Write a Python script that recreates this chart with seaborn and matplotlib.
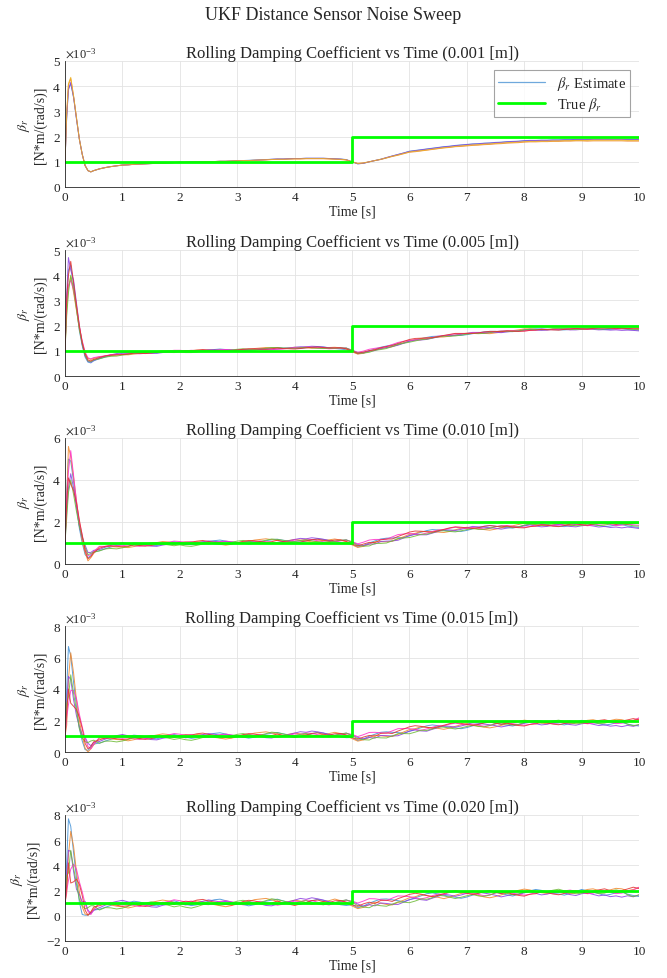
import numpy as np
import pandas as pd
import matplotlib
matplotlib.use("Agg")
import matplotlib.pyplot as plt
from matplotlib.lines import Line2D
from matplotlib.ticker import ScalarFormatter, MultipleLocator
import seaborn as sns

# sample times [s]
time_s = [0, 0.03, 0.06, 0.1, 0.15, 0.2, 0.25, 0.3, 0.35, 0.4, 0.45, 0.5,
          0.6, 0.7, 0.8, 0.9, 1.0, 1.1, 1.2, 1.3, 1.4, 1.5,
          1.6, 1.7, 1.8, 1.9, 2.0, 2.1, 2.2, 2.3, 2.4, 2.5,
          2.6, 2.7, 2.8, 2.9, 3.0, 3.1, 3.2, 3.3, 3.4, 3.5,
          3.6, 3.7, 3.8, 3.9, 4.0, 4.1, 4.2, 4.3, 4.4, 4.5,
          4.6, 4.7, 4.8, 4.9, 5.0, 5.1, 5.2, 5.3, 5.4, 5.5,
          5.6, 5.7, 5.8, 5.9, 6.0, 6.1, 6.2, 6.3, 6.4, 6.5,
          6.6, 6.7, 6.8, 6.9, 7.0, 7.1, 7.2, 7.3, 7.4, 7.5,
          7.6, 7.7, 7.8, 7.9, 8.0, 8.1, 8.2, 8.3, 8.4, 8.5,
          8.6, 8.7, 8.8, 8.9, 9.0, 9.1, 9.2, 9.3, 9.4, 9.5,
          9.6, 9.7, 9.8, 9.9, 10.0]

# common estimate trend, units of 1e-5 N*m/(rad/s)
beta_trend = [100, 280, 380, 410, 350, 270, 190, 130, 85, 65, 60, 65,
              72, 77, 81, 84, 87, 88, 90, 91, 92, 93,
              94, 95, 96, 97, 98, 98, 99, 99, 100, 100,
              101, 102, 102, 103, 104, 105, 105, 106, 107, 108,
              109, 110, 110, 111, 112, 112, 113, 113, 113, 113,
              112, 111, 110, 108, 100, 93, 95, 100, 105, 110,
              116, 122, 128, 134, 140, 143, 146, 149, 152, 155,
              158, 160, 163, 165, 167, 169, 170, 172, 173, 175,
              176, 178, 179, 180, 182, 183, 183, 184, 184, 185,
              185, 186, 186, 187, 187, 187, 188, 188, 188, 188,
              188, 188, 187, 187, 187]

# per-run deviation from the trend, units of 1e-5
dev_0001 = [
    [0, 0, 10, 0, 5, 0, 0, 0, 0, 0, 0, 0,
     0, 0, 0, 0, 0, 0, 0, 0, 0, 0,
     0, 0, 0, 0, 0, 0, 0, 0, 0, 0,
     0, 0, 0, 0, 0, 0, 1, 1, 1, 1,
     1, 1, 1, 1, 1, 1, 1, 1, 1, 1,
     1, 1, 1, 1, 0, -1, -1, 0, 0, 0,
     0, 1, 1, 1, 2, 2, 2, 2, 2, 2,
     2, 2, 2, 2, 2, 2, 2, 2, 2, 2,
     2, 2, 2, 2, 2, 2, 2, 2, 2, 2,
     2, 2, 2, 2, 2, 2, 2, 2, 2, 2,
     2, 2, 2, 2, 2],
    [0, 10, 25, 20, 10, 5, 0, 0, 0, 0, 0, 0,
     0, 0, 0, 0, 0, 0, 0, 0, 0, 0,
     0, 0, 0, 0, 0, 0, 0, 0, 0, 0,
     0, 0, 0, 0, 0, 0, 0, 0, 0, 0,
     0, 0, 0, 0, -1, -1, -1, -1, -1, -1,
     -1, -1, -1, -1, 0, 1, 1, 0, 0, -1,
     -1, -1, -2, -2, -2, -3, -3, -3, -3, -3,
     -3, -3, -3, -4, -4, -4, -4, -4, -4, -4,
     -4, -4, -4, -4, -4, -4, -4, -4, -4, -4,
     -4, -4, -4, -4, -4, -5, -5, -5, -5, -5,
     -5, -5, -5, -5, -5],
    [0, 0, 5, 5, 5, 0, 0, 0, 0, 0, 0, 0,
     0, 0, 0, 0, 0, 0, 0, 0, 0, 0,
     0, 0, 0, 0, 0, 0, 0, 0, 0, 0,
     0, 0, 0, 0, 0, 0, 0, 0, 0, 0,
     1, 1, 1, 1, 1, 1, 1, 1, 1, 1,
     1, 1, 1, 0, 0, -1, -1, 0, 0, 0,
     1, 1, 1, 1, 1, 1, 1, 1, 1, 1,
     1, 1, 1, 1, 1, 1, 1, 1, 1, 1,
     1, 1, 1, 1, 1, 1, 1, 1, 1, 1,
     1, 1, 1, 1, 1, 1, 1, 1, 1, 1,
     1, 1, 1, 1, 1],
    [0, 15, 30, 25, 10, 5, 0, 0, 0, 0, 0, 0,
     0, 0, 0, 0, 0, 0, 0, 0, 0, 0,
     0, 0, 0, 0, 0, 0, 0, 0, 0, 0,
     0, 0, 0, 0, 0, 0, 0, 0, 0, 0,
     0, 0, 0, 0, 0, 0, 0, 0, 0, 0,
     0, 0, 0, 0, 0, 0, 0, 0, 0, 0,
     0, 0, -1, -1, -1, -1, -2, -2, -2, -2,
     -2, -2, -2, -2, -2, -2, -2, -2, -2, -2,
     -2, -2, -2, -2, -2, -2, -2, -2, -2, -2,
     -2, -2, -2, -2, -2, -2, -2, -2, -2, -2,
     -2, -2, -2, -2, -2],
]

dev_0005 = [
    [0, 20, 40, 30, 10, 0, -10, -10, -10, -10, -8, -5,
     -3, -2, 0, 1, 3, 2, 4, 3, 1, -1,
     -2, 0, 2, 3, 1, -1, -3, -2, 0, 2,
     4, 5, 3, 1, 0, -2, -4, -3, -1, 1,
     2, 3, 1, 0, -2, -3, -1, 1, 3, 2,
     0, -2, -3, -4, -2, -5, -3, 0, 2, 4,
     3, 1, -1, -3, -2, 0, 2, 4, 5, 3,
     1, -1, -2, -4, -3, -1, 1, 3, 4, 2,
     0, -2, -3, -1, 1, 2, 4, 3, 1, -1,
     -2, -3, -1, 1, 3, 2, 0, -2, -4, -3,
     -1, 0, -2, -4, -5],
    [0, -20, -30, -15, -20, -10, 0, 5, 5, 5, 6, 5,
     4, 2, 1, -1, -2, -4, -3, -1, 0, 2,
     3, 5, 4, 2, 0, -1, 1, 3, 2, 0,
     -2, -3, -5, -4, -2, 0, 1, 3, 4, 5,
     3, 1, -1, 0, 2, 1, -1, -3, -2, 0,
     1, 3, 2, -1, -4, -6, -5, -2, 0, -2,
     -4, -6, -4, -2, 0, 1, 3, 2, 0, -1,
     -3, -2, 0, 2, 3, 1, -1, -3, -5, -4,
     -2, 0, 1, 3, 5, 4, 2, 0, -1, 1,
     2, 0, -2, -1, 1, 3, 4, 2, 1, 3,
     5, 4, 2, 3, 4],
    [0, 40, 90, 10, 30, 20, 10, -5, -5, -7, -5, -3,
     -1, 1, 3, 5, 6, 4, 2, 1, -1, -3,
     -4, -2, -1, 1, 0, -2, -1, 1, 2, 4,
     3, 1, 2, 0, -2, -1, 1, 0, -2, -4,
     -5, -3, -1, 0, 2, 4, 3, 5, 4, 2,
     0, -1, 1, 3, 2, 0, -3, -2, -4, -1,
     -3, -5, -6, -4, -2, -1, -3, -4, -2, 0,
     2, 1, -1, 0, 2, 4, 3, 1, 0, -2,
     -4, -3, -1, -2, 0, 1, -1, -3, -2, 0,
     1, -1, -3, -4, -2, -1, -3, -5, -4, -6,
     -5, -7, -5, -6, -8],
    [0, 10, -20, -30, -10, 5, 5, 10, 10, 7, 8, 8,
     5, 3, 4, 2, 0, 1, -1, -3, -2, 0,
     2, 1, 3, 5, 4, 2, 3, 1, -1, -2,
     0, 2, 3, 1, -1, -3, -2, 0, 1, -1,
     -2, -4, -3, -1, 1, 0, 2, 1, -1, -3,
     -4, -2, 0, 2, 3, 1, 4, 6, 5, 3,
     1, 3, 5, 4, 2, 0, -2, -1, 1, 3,
     2, 4, 5, 3, 1, 2, 0, -2, -1, 1,
     3, 2, 0, -1, -3, -2, 0, 2, 1, -1,
     0, 2, 3, 1, 0, -2, -1, 1, 2, 0,
     -2, -1, 1, 0, -1],
    [0, -40, -50, -10, -5, -5, -5, -2, -3, -5, -3, -1,
     -4, -2, -3, -5, -4, -2, 0, -1, 1, 3,
     2, 0, -2, -4, -3, -5, -6, -4, -2, 0,
     -1, -3, -2, 0, 2, 3, 1, -1, 0, 2,
     4, 3, 1, -1, -2, 0, 1, -1, -3, -4,
     -2, -1, 1, 3, 1, -2, -4, -6, -3, -5,
     -7, -5, -3, -4, -6, -4, -2, -3, -1, 1,
     0, -2, -4, -3, -1, 0, -2, -3, -1, 1,
     2, 0, -2, -1, 1, 3, 2, 0, 1, 3,
     4, 2, 0, -2, -1, 1, 0, -2, -1, 1,
     3, 1, 0, -2, -3],
    [0, 30, 20, 45, 20, 10, 10, 2, 3, -1, 0, 1,
     1, 3, 2, 0, -2, -1, 1, -1, -3, -2,
     0, 2, 1, -1, 1, 3, 2, 4, 5, 3,
     1, 0, -2, -3, -1, 1, 3, 2, 0, -2,
     -1, 1, -1, -3, -5, -3, -1, 1, 2, 0,
     -1, 1, 2, 0, -2, -3, 0, 1, -1, 2,
     1, -1, 1, 3, 5, 6, 4, 2, 0, 1,
     3, 5, 6, 4, 2, 0, 1, 3, 4, 2,
     0, 1, -1, -3, -4, -2, -1, 1, 0, -2,
     -3, -1, 1, 2, 0, -1, 1, 3, 4, 2,
     0, 2, 1, 3, 2],
]

dev_0010 = [
    [0, 60, 120, 80, 40, 10, -20, -30, -40, -35, -20, -10,
     -8, -5, 0, 4, 8, 6, 10, 7, 2, -3,
     -6, -1, 5, 8, 3, -2, -7, -5, 1, 6,
     10, 12, 7, 2, -1, -6, -10, -7, -2, 3,
     6, 8, 3, -1, -5, -8, -3, 2, 7, 4,
     -1, -5, -8, -10, -5, -12, -7, 0, 5, 9,
     7, 2, -3, -8, -5, 0, 5, 10, 12, 7,
     2, -2, -6, -10, -7, -2, 3, 8, 10, 5,
     0, -5, -8, -3, 2, 6, 10, 7, 2, -3,
     -5, -8, -3, 2, 8, 5, 0, -5, -10, -7,
     -2, 0, -6, -10, -13],
    [0, 20, 180, 100, 60, 30, 0, -20, -30, -50, -30, -15,
     10, 5, 2, -3, -6, -10, -7, -2, 1, 5,
     8, 12, 9, 4, 0, -3, 2, 7, 5, 0,
     -5, -8, -12, -9, -4, 1, 3, 8, 10, 12,
     7, 2, -3, 1, 5, 2, -3, -8, -5, 0,
     3, 8, 4, -2, -9, -14, -11, -5, 1, -4,
     -10, -14, -9, -4, 1, 3, 8, 5, 0, -3,
     -8, -5, 0, 5, 8, 3, -3, -8, -12, -9,
     -4, 1, 3, 8, 12, 9, 4, 0, -3, 2,
     5, 0, -5, -2, 3, 8, 10, 5, 2, 7,
     12, 10, 5, 8, 10],
    [0, -30, -20, 20, 10, 0, -10, -5, 5, -10, -5, 0,
     -3, 3, 8, 12, 14, 9, 5, 2, -3, -8,
     -10, -5, -2, 3, 0, -5, -3, 2, 6, 10,
     7, 3, 5, 0, -5, -3, 2, 0, -5, -10,
     -12, -7, -3, 0, 5, 10, 7, 12, 9, 5,
     0, -3, 2, 7, 5, 0, -7, -5, -10, -3,
     -7, -12, -15, -10, -5, -2, -7, -10, -5, 0,
     5, 2, -3, 0, 5, 10, 7, 3, 0, -5,
     -10, -7, -3, -5, 0, 3, -2, -7, -5, 0,
     3, -2, -7, -10, -5, -2, -7, -12, -9, -14,
     -12, -16, -11, -14, -18],
    [0, 40, 60, 130, 70, 30, 10, 10, -15, -25, -15, -5,
     12, 7, 10, 5, 0, 3, -3, -7, -5, 0,
     5, 3, 7, 12, 9, 5, 7, 2, -3, -5,
     0, 5, 7, 3, -2, -7, -5, 0, 3, -2,
     -5, -10, -7, -3, 2, 0, 5, 3, -2, -7,
     -10, -5, 0, 5, 7, 3, 9, 14, 12, 7,
     2, 7, 12, 9, 5, 0, -5, -2, 3, 7,
     5, 10, 12, 7, 3, 5, 0, -5, -3, 2,
     7, 5, 0, -3, -7, -5, 0, 5, 3, -2,
     0, 5, 7, 3, 0, -5, -3, 2, 5, 0,
     -5, -3, 3, 0, -3],
    [0, -60, -40, -10, -20, -20, -10, 0, -5, -20, -10, -8,
     -10, -5, -7, -12, -10, -5, 0, -3, 3, 7,
     5, 0, -5, -10, -7, -12, -15, -10, -5, 0,
     -3, -7, -5, 0, 5, 7, 3, -3, 0, 5,
     10, 7, 3, -3, -5, 0, 3, -3, -7, -10,
     -5, -3, 3, 7, 3, -5, -10, -14, -7, -12,
     -16, -12, -7, -10, -14, -10, -5, -7, -3, 3,
     0, -5, -10, -7, -3, 0, -5, -7, -3, 3,
     5, 0, -5, -3, 3, 7, 5, 0, 3, 7,
     10, 5, 0, -5, -3, 3, 0, -5, -3, 3,
     7, 3, 0, -5, -7],
    [0, 10, 30, -30, 0, 20, 20, 5, -20, -40, -25, -10,
     3, 7, 5, 0, -5, -3, 3, -3, -7, -5,
     0, 5, 3, -3, 3, 7, 5, 10, 12, 7,
     3, 0, -5, -7, -3, 3, 7, 5, 0, -5,
     -3, 3, -3, -7, -12, -7, -3, 3, 5, 0,
     -3, 3, 5, 0, -5, -7, 0, 3, -3, 5,
     3, -3, 3, 7, 12, 14, 10, 5, 0, 3,
     7, 12, 14, 10, 5, 0, 3, 7, 10, 5,
     0, 3, -3, -7, -10, -5, -3, 3, 0, -5,
     -7, -3, 3, 5, 0, -3, 3, 7, 10, 5,
     0, 5, 3, 7, 5],
]

dev_0015 = [
    [0, 120, 290, 200, 90, 20, -40, -60, -70, -55, -30, -15,
     -15, -8, 0, 7, 14, 10, 17, 12, 4, -5,
     -10, -2, 8, 14, 5, -3, -12, -8, 2, 10,
     17, 20, 12, 4, -2, -10, -17, -12, -3, 5,
     10, 14, 5, -2, -8, -14, -5, 3, 12, 7,
     -2, -8, -14, -17, -8, -20, -12, 0, 8, 15,
     12, 3, -5, -14, -8, 0, 8, 17, 20, 12,
     3, -3, -10, -17, -12, -3, 5, 14, 17, 8,
     0, -8, -14, -5, 3, 10, 17, 12, 3, -5,
     -8, -14, -5, 3, 14, 8, 0, -8, -17, -12,
     -3, 0, -10, -17, -22],
    [0, -110, 80, 220, 150, 60, 10, -30, -60, -65, -40, -20,
     17, 8, 3, -5, -10, -17, -12, -3, 2, 8,
     14, 20, 15, 7, 0, -5, 3, 12, 8, 0,
     -8, -14, -20, -15, -7, 2, 5, 14, 17, 20,
     12, 3, -5, 2, 8, 3, -5, -14, -8, 0,
     5, 14, 7, -3, -15, -24, -18, -8, 2, -7,
     -17, -24, -15, -7, 2, 5, 14, 8, 0, -5,
     -14, -8, 0, 8, 14, 5, -5, -14, -20, -15,
     -7, 2, 5, 14, 20, 15, 7, 0, -5, 3,
     8, 0, -8, -3, 5, 14, 17, 8, 3, 12,
     20, 17, 8, 14, 24],
    [0, 40, 100, 50, -20, -40, -30, -20, 10, -10, -20, -5,
     -5, 5, 14, 20, 24, 15, 8, 3, -5, -14,
     -17, -8, -3, 5, 0, -8, -5, 3, 10, 17,
     12, 5, 8, 0, -8, -5, 3, 0, -8, -17,
     -20, -12, -5, 0, 8, 17, 12, 20, 15, 8,
     0, -5, 3, 12, 8, 0, -12, -8, -17, -5,
     -12, -20, -25, -17, -8, -3, -12, -17, -8, 0,
     8, 3, -5, 0, 8, 17, 12, 5, 0, -8,
     -17, -12, -5, -8, 0, 5, -3, -12, -8, 0,
     5, -3, -12, -17, -8, -3, -12, -20, -15, -24,
     -20, -27, -18, -24, -15],
    [0, -60, -80, -20, 40, 70, 50, 30, 0, -30, -40, -15,
     20, 12, 17, 8, 0, 5, -5, -12, -8, 0,
     8, 5, 12, 20, 15, 8, 12, 3, -5, -8,
     0, 8, 12, 5, -3, -12, -8, 0, 5, -3,
     -8, -17, -12, -5, 3, 0, 8, 5, -3, -12,
     -17, -8, 0, 8, 12, 5, 15, 24, 20, 12,
     3, 12, 20, 15, 8, 0, -8, -3, 5, 12,
     8, 17, 20, 12, 5, 8, 0, -8, -5, 3,
     12, 8, 0, -5, -12, -8, 0, 8, 5, -3,
     0, 8, 12, 5, 0, -8, -5, 3, 8, 0,
     -8, -5, 5, 12, 30],
    [0, 30, -30, 80, 20, -10, -40, -40, -20, -5, 10, 10,
     -17, -8, -12, -20, -17, -8, 0, -5, 5, 12,
     8, 0, -8, -17, -12, -20, -25, -17, -8, 0,
     -5, -12, -8, 0, 8, 12, 5, -5, 0, 8,
     17, 12, 5, -5, -8, 0, 5, -5, -12, -17,
     -8, -5, 5, 12, 5, -8, -17, -24, -12, -20,
     -27, -20, -12, -17, -24, -17, -8, -12, -5, 5,
     0, -8, -17, -12, -5, 0, -8, -12, -5, 5,
     8, 0, -8, -5, 5, 12, 8, 0, 5, 12,
     17, 8, 0, -8, -5, 5, 0, -8, -5, 5,
     12, 5, -10, -20, -12],
    [0, -20, 20, -100, -60, 0, 30, 20, -30, -45, -25, 0,
     5, 12, 8, 0, -8, -5, 5, -5, -12, -8,
     0, 8, 5, -5, 5, 12, 8, 17, 20, 12,
     5, 0, -8, -12, -5, 5, 12, 8, 0, -8,
     -5, 5, -5, -12, -20, -12, -5, 5, 8, 0,
     -5, 5, 8, 0, -8, -12, 0, 5, -5, 8,
     5, -5, 5, 12, 20, 24, 17, 8, 0, 5,
     12, 20, 24, 17, 8, 0, 5, 12, 17, 8,
     0, 5, -5, -12, -17, -8, -5, 5, 0, -8,
     -12, -5, 5, 8, 0, -5, 5, 12, 17, 8,
     0, 8, 17, 25, 18],
]

dev_0020 = [
    [0, 150, 390, 300, 150, 30, -80, -120, -80, -60, -40, -20,
     -20, -10, 2, 12, 22, 15, 26, 18, 6, -8,
     -15, -3, 12, 22, 8, -5, -18, -12, 3, 15,
     26, 30, 18, 6, -3, -15, -26, -18, -5, 8,
     15, 22, 8, -3, -12, -22, -8, 5, 18, 10,
     -3, -12, -22, -26, -12, -30, -18, 0, 12, 22,
     18, 5, -8, -22, -12, 0, 12, 26, 30, 18,
     5, -5, -15, -26, -18, -5, 8, 22, 26, 12,
     0, -12, -22, -8, 5, 15, 26, 18, 5, -8,
     -12, -22, -8, 5, 22, 12, 0, -12, -26, -18,
     -5, 0, -15, -26, -34],
    [0, -100, 100, 260, 200, 80, 0, -60, -70, -60, -30, -10,
     26, 12, 5, -8, -15, -26, -18, -5, 3, 12,
     22, 30, 22, 10, 0, -8, 5, 18, 12, 0,
     -12, -22, -30, -22, -10, 3, 8, 22, 26, 30,
     18, 5, -8, 3, 12, 5, -8, -22, -12, 0,
     8, 22, 10, -5, -22, -36, -28, -12, 3, -10,
     -26, -36, -22, -10, 3, 8, 22, 12, 0, -8,
     -22, -12, 0, 12, 22, 8, -8, -22, -30, -22,
     -10, 3, 8, 22, 30, 22, 10, 0, -8, 5,
     12, 0, -12, -5, 8, 22, 26, 12, 5, 18,
     30, 26, 12, 22, 36],
    [0, 60, 140, 100, 0, -60, -20, -20, 30, -20, -40, -20,
     -8, 8, 22, 30, 36, 22, 12, 5, -8, -22,
     -26, -12, -5, 8, 0, -12, -8, 5, 15, 26,
     18, 8, 12, 0, -12, -8, 5, 0, -12, -26,
     -30, -18, -8, 0, 12, 26, 18, 30, 22, 12,
     0, -8, 5, 18, 12, 0, -18, -12, -26, -8,
     -18, -30, -38, -26, -12, -5, -18, -26, -12, 0,
     12, 5, -8, 0, 12, 26, 18, 8, 0, -12,
     -26, -18, -8, -12, 0, 8, -5, -18, -12, 0,
     8, -5, -18, -26, -12, -5, -18, -30, -22, -36,
     -30, -40, -28, -36, -22],
    [0, -80, -100, -40, 60, 100, 80, 60, 10, -30, -50, -20,
     30, 18, 26, 12, 0, 8, -8, -18, -12, 0,
     12, 8, 18, 30, 22, 12, 18, 5, -8, -12,
     0, 12, 18, 8, -5, -18, -12, 0, 8, -5,
     -12, -26, -18, -8, 5, 0, 12, 8, -5, -18,
     -26, -12, 0, 12, 18, 8, 22, 36, 30, 18,
     5, 18, 30, 22, 12, 0, -12, -5, 8, 18,
     12, 26, 30, 18, 8, 12, 0, -12, -8, 5,
     18, 12, 0, -8, -18, -12, 0, 12, 8, -5,
     0, 12, 18, 8, 0, -12, -8, 5, 12, 0,
     -12, -8, 8, 18, 40],
    [0, 40, -40, 110, 30, -20, -60, -50, -30, 0, 20, 15,
     -26, -12, -18, -30, -26, -12, 0, -8, 8, 18,
     12, 0, -12, -26, -18, -30, -38, -26, -12, 0,
     -8, -18, -12, 0, 12, 18, 8, -8, 0, 12,
     26, 18, 8, -8, -12, 0, 8, -8, -18, -26,
     -12, -8, 8, 18, 8, -12, -26, -36, -18, -30,
     -40, -30, -18, -26, -36, -26, -12, -18, -8, 8,
     0, -12, -26, -18, -8, 0, -12, -18, -8, 8,
     12, 0, -12, -8, 8, 18, 12, 0, 8, 18,
     26, 12, 0, -12, -8, 8, 0, -12, -8, 8,
     18, 8, -20, -35, -20],
    [0, -40, 40, -150, -80, 20, 60, 30, -40, -60, -30, 5,
     8, 18, 12, 0, -12, -8, 8, -8, -18, -12,
     0, 12, 8, -8, 8, 18, 12, 26, 30, 18,
     8, 0, -12, -18, -8, 8, 18, 12, 0, -12,
     -8, 8, -8, -18, -30, -18, -8, 8, 12, 0,
     -8, 8, 12, 0, -12, -18, 0, 8, -8, 12,
     8, -8, 8, 18, 30, 36, 26, 12, 0, 8,
     18, 30, 36, 26, 12, 0, 8, 18, 26, 12,
     0, 8, -8, -18, -26, -12, -8, 8, 0, -12,
     -18, -8, 8, 12, 0, -8, 8, 18, 26, 12,
     0, 12, 26, 40, 30],
]

# true (reference) coefficient, step at t = 5 s
true_time = [0, 5, 5, 10]
true_beta = [1e-3, 1e-3, 2e-3, 2e-3]

noise_levels = ["0.001", "0.005", "0.010", "0.015", "0.020"]
deviations = [dev_0001, dev_0005, dev_0010, dev_0015, dev_0020]

# long-form table for seaborn
frames = []
for noise, runs in zip(noise_levels, deviations):
    for k, dev in enumerate(runs):
        beta = (np.array(beta_trend) + np.array(dev)) * 1e-5
        frames.append(pd.DataFrame({"time": time_s, "beta": beta,
                                    "run": k, "noise": noise}))
df = pd.concat(frames, ignore_index=True)

# style
sns.set_theme(style="white")
plt.rcParams["font.family"] = ["Liberation Serif", "DejaVu Serif"]
plt.rcParams["mathtext.fontset"] = "stix"
plt.rcParams["axes.unicode_minus"] = False

run_colors = ["#3F8FD6", "#F0862A", "#8A3FE0", "#FF2FC8", "#6DBB35", "#E3312F"]
p1_colors = ["#3F8FD6", "#F0862A", "#8A3FE0", "#EDB120"]
green = "#00FF00"
ax_col = "#262626"

ylims = [(0, 5e-3, 1e-3), (0, 5e-3, 1e-3), (0, 6e-3, 2e-3),
         (0, 8e-3, 2e-3), (-2e-3, 8e-3, 2e-3)]

W, H = 667, 979
fig = plt.figure(figsize=(W / 100, H / 100), dpi=100)
fig.text(0.5, 1 - 16 / H, "UKF Distance Sensor Noise Sweep",
         ha="center", va="center", fontsize=13, color=ax_col)

left, right = 65, 639
tops = [62, 251, 439, 627, 816]
ax_h = 126

for i, noise in enumerate(noise_levels):
    ax = fig.add_axes([left / W, 1 - (tops[i] + ax_h) / H,
                       (right - left) / W, ax_h / H])
    sub = df[df.noise == noise]
    pal = p1_colors if i == 0 else run_colors
    sns.lineplot(ax=ax, data=sub, x="time", y="beta", hue="run",
                 palette=pal[:sub.run.nunique()], estimator=None,
                 legend=False, lw=0.7, alpha=0.85)
    sns.lineplot(ax=ax, x=true_time, y=true_beta, estimator=None, sort=False,
                 color=green, lw=2.0)

    lo, hi, step = ylims[i]
    ax.set_xlim(0, 10)
    ax.set_ylim(lo, hi)
    ax.xaxis.set_major_locator(MultipleLocator(1))
    ax.yaxis.set_major_locator(MultipleLocator(step))
    fmt = ScalarFormatter(useMathText=True)
    fmt.set_powerlimits((-3, -3))
    ax.yaxis.set_major_formatter(fmt)
    ax.yaxis.get_offset_text().set_fontsize(9)
    ax.yaxis.get_offset_text().set_color(ax_col)

    ax.grid(True, color="#E3E3E3", lw=0.6)
    ax.set_axisbelow(True)
    for s in ["top", "right"]:
        ax.spines[s].set_visible(False)
    for s in ["left", "bottom"]:
        ax.spines[s].set_color(ax_col)
        ax.spines[s].set_linewidth(0.6)
    ax.tick_params(direction="in", length=3, width=0.6, colors=ax_col,
                   labelsize=9.5, pad=3)

    ax.set_title(f"Rolling Damping Coefficient vs Time ({noise} [m])",
                 fontsize=12, pad=3, color=ax_col)
    ax.set_xlabel("Time [s]", fontsize=10, labelpad=1, color=ax_col)
    ax.set_ylabel(r"$\beta_r$" + "\n[N*m/(rad/s)]", fontsize=10,
                  labelpad=4, color=ax_col, linespacing=1.1)

    if i == 0:
        handles = [Line2D([], [], color="#6FA8DC", lw=0.9),
                   Line2D([], [], color=green, lw=2.0)]
        leg = ax.legend(handles, [r"$\beta_r$ Estimate", r"True $\beta_r$"],
                        loc="upper right", fontsize=10.5, frameon=True,
                        fancybox=False, edgecolor="#8C8C8C",
                        handlelength=3.2, borderaxespad=0.6,
                        borderpad=0.3, labelspacing=0.2)
        leg.get_frame().set_linewidth(0.8)

fig.savefig("out.png", dpi=100)
